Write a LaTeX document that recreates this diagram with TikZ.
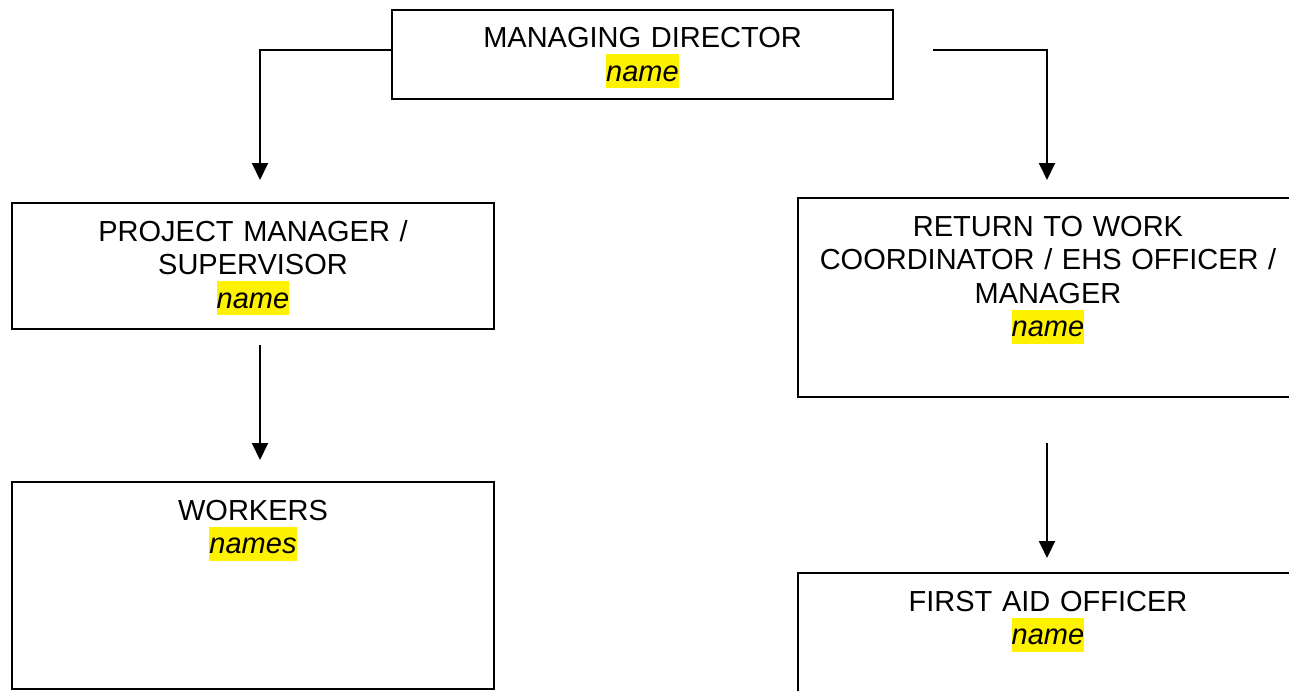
\documentclass[tikz,border=0pt]{standalone}
\usepackage{fontspec}
\setmainfont{Liberation Sans}
\usepackage{xcolor}
\usepackage{tikz}
\usetikzlibrary{arrows.meta,calc}

\newcommand{\hlname}[1]{{\setlength{\fboxsep}{0pt}\colorbox{yellow}{\rule[-3.5pt]{0pt}{17pt}\itshape #1}}}

\begin{document}
\begin{tikzpicture}[x=0.5pt, y=-0.5pt,
      font=\fontsize{14.5pt}{16.75pt}\selectfont,
      box/.style={draw, line width=0.9pt, anchor=north west, align=center,
                  inner sep=0pt, outer sep=0pt, text height=19pt},
      topbox/.style={box, text width=250.5pt, text depth=25.5pt},
      leftbox/.style={box, text width=241pt},
      rightbox/.style={box, text width=250pt},
      link/.style={line width=1pt, ->},
      >={Triangle[length=8.5pt,width=8pt]}]

    \useasboundingbox (0,0) rectangle (1289,690);
    \clip (0,0) rectangle (1289,690);

    \node[topbox] (md) at (392,10)
      {MANAGING DIRECTOR\\\hlname{name}};

    \node[leftbox, text depth=44pt] (pm) at (12,203)
      {PROJECT MANAGER /\\SUPERVISOR\\\hlname{name}};
    \node[leftbox, text depth=84.5pt] (wk) at (12,482)
      {WORKERS\\\hlname{names}};

    \node[rightbox, text depth=80.5pt] (rtw) at (798,198)
      {RETURN TO WORK\\COORDINATOR / EHS OFFICER /\\MANAGER\\\hlname{name}};
    \node[rightbox, text depth=61pt] (fao) at (798,573)
      {FIRST AID OFFICER\\\hlname{name}};

    \draw[link, shorten >=11.5pt] ($(md.north west)+(0,40)$) -| ($(pm.north)+(7,0)$);
    \draw[link, shorten >=9pt] ($(md.north east)+(40,40)$) -| ($(rtw.north)+(-1,0)$);
    \draw[link, shorten <=8pt, shorten >=11pt] ($(pm.south)+(7,0)$) -- ($(wk.north)+(7,0)$);
    \draw[link, shorten <=23pt, shorten >=7.5pt] ($(rtw.south)+(-1,0)$) -- ($(fao.north)+(-1,0)$);
  \end{tikzpicture}
\end{document}
